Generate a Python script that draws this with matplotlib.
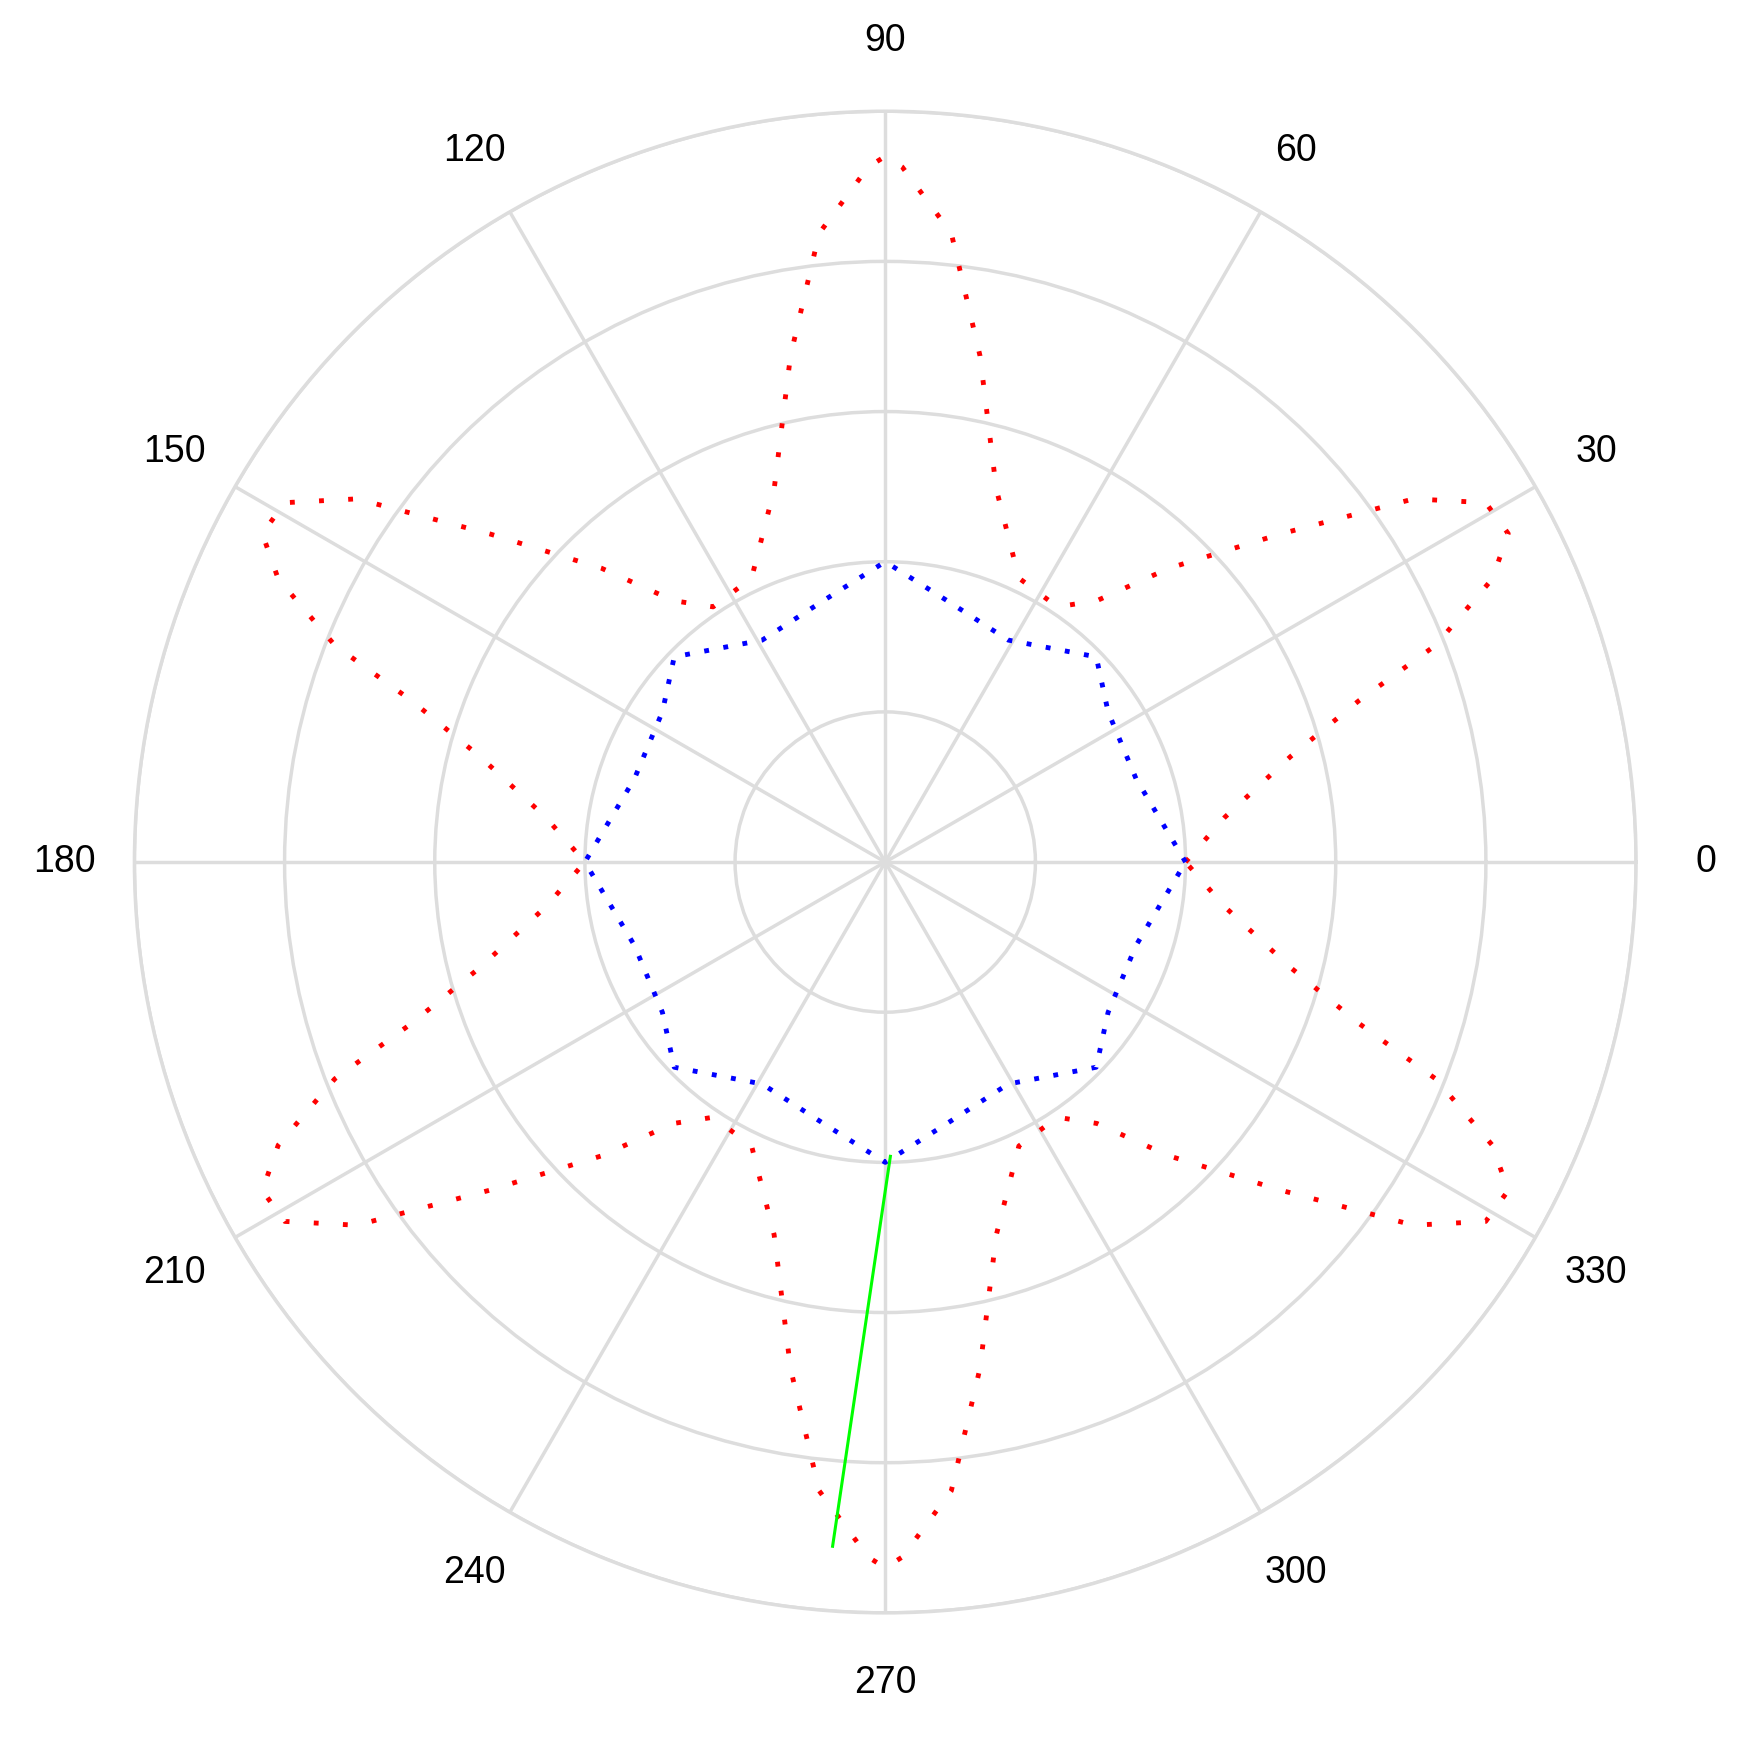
import numpy as np
import matplotlib.pyplot as plt

plt.rcParams['font.family'] = ['Liberation Sans', 'DejaVu Sans']

# red curve, first quadrant (degrees, radius)
red_deg = [0, 7.5, 14.6, 18.8, 21.5, 25, 27.8, 30.9, 34.5, 39.7, 46, 51, 56, 64.8, 73.4, 79.4, 84, 88.6, 90]
red_r = [2.0, 2.28, 2.79, 3.33, 3.94, 4.46, 4.69, 4.66, 4.27, 3.42, 2.72, 2.24, 2.05, 2.09, 2.59, 3.43, 4.21, 4.63, 4.7]

# blue curve, first quadrant
blue_deg = [0, 18.4, 34, 44.2, 61, 76.8, 90]
blue_r = [2.0, 1.76, 1.79, 1.96, 1.69, 1.79, 2.0]

# green segment
green_deg = [271, 265.6]
green_r = [1.96, 4.57]


def full_turn(deg, r):
    deg = np.array(deg, float)
    r = np.array(r, float)
    # mirror the quadrant around 90, 180 and 270 degrees
    d2 = np.concatenate([deg, 180 - deg[::-1][1:]])
    r2 = np.concatenate([r, r[::-1][1:]])
    d4 = np.concatenate([d2, 360 - d2[::-1][1:]])
    r4 = np.concatenate([r2, r2[::-1][1:]])
    return np.radians(d4), r4


fig = plt.figure(figsize=(17.45, 17.38), dpi=100)
ax = fig.add_axes([0.0768, 0.072, 0.861, 0.864], projection='polar')

t, r = full_turn(red_deg, red_r)
ax.plot(t, r, color='red', lw=3.5, linestyle=(0, (1, 5)))
t, r = full_turn(blue_deg, blue_r)
ax.plot(t, r, color='blue', lw=3.5, linestyle=(0, (1, 3)))
ax.plot(np.radians(green_deg), green_r, color='#00ff00', lw=2.2)

ax.set_rlim(0, 5)
ax.set_rticks([1, 2, 3, 4, 5])
ax.set_yticklabels([])
ax.set_thetagrids(range(0, 360, 30), [str(a) for a in range(0, 360, 30)], fontsize=27)
ax.tick_params(axis='x', pad=40)
ax.grid(True, color='#dddddd', lw=2.5)
ax.spines['polar'].set_color('#dddddd')
ax.spines['polar'].set_linewidth(2.5)

fig.savefig('out.png', dpi=100)
